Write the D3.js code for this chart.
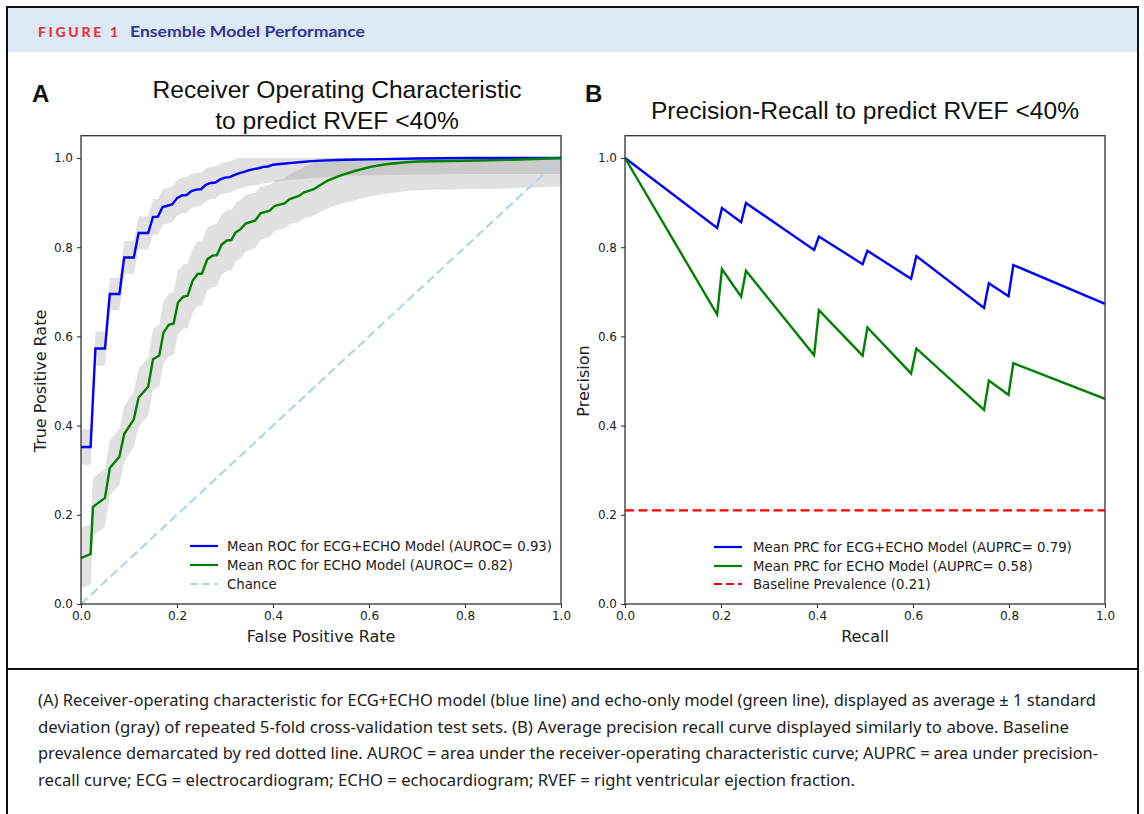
<!DOCTYPE html>
<html><head><meta charset="utf-8">
<script src="https://cdn.jsdelivr.net/npm/d3@7"></script>
<style>
html,body{margin:0;padding:0;background:#fff;}
svg{display:block;}
</style>
</head><body>
<svg id="chart" width="1144" height="814"></svg>
<script>
// ---------- DATA ----------
const tickValues = [0, 0.2, 0.4, 0.6, 0.8, 1.0];

// ROC: ECG+ECHO (blue) mean curve and std
const rocBlueFpr = [0,0.02,0.03,0.05,0.06,0.08,0.09,0.11,0.12,0.14,0.15,0.16,0.17,0.18,0.19,0.20,0.21,0.22,0.23,0.24,0.25,0.26,0.27,0.28,0.29,0.30,0.31,0.32,0.33,0.34,0.35,0.36,0.37,0.38,0.39,0.40,0.42,0.44,0.46,0.48,0.50,0.55,0.60,0.70,0.80,1.0];
const rocBlueTpr = [0.352,0.352,0.573,0.573,0.695,0.695,0.777,0.777,0.832,0.832,0.868,0.868,0.890,0.893,0.896,0.910,0.916,0.917,0.926,0.929,0.930,0.940,0.944,0.945,0.952,0.956,0.957,0.962,0.966,0.969,0.973,0.975,0.977,0.980,0.981,0.985,0.987,0.989,0.991,0.993,0.994,0.996,0.997,0.999,1.0,1.0];
const rocBlueSd  = [0.040,0.040,0.038,0.038,0.036,0.036,0.037,0.037,0.037,0.037,0.040,0.040,0.040,0.040,0.040,0.040,0.040,0.040,0.038,0.038,0.037,0.037,0.036,0.036,0.035,0.035,0.035,0.035,0.035,0.035,0.036,0.036,0.037,0.037,0.037,0.038,0.038,0.038,0.038,0.038,0.038,0.036,0.036,0.036,0.036,0.036];

// ROC: ECHO only (green) mean curve and std
const rocGreenFpr = [0,0.02,0.025,0.05,0.06,0.08,0.09,0.11,0.12,0.14,0.15,0.163,0.172,0.183,0.193,0.202,0.213,0.222,0.233,0.243,0.252,0.263,0.274,0.283,0.293,0.304,0.313,0.322,0.333,0.343,0.363,0.374,0.393,0.404,0.424,0.435,0.454,0.465,0.485,0.496,0.515,0.544,0.574,0.603,0.635,0.671,0.70,0.80,0.90,1.0];
const rocGreenTpr = [0.103,0.112,0.218,0.238,0.305,0.330,0.381,0.414,0.463,0.487,0.549,0.557,0.609,0.626,0.629,0.676,0.689,0.691,0.726,0.740,0.741,0.773,0.781,0.782,0.806,0.815,0.816,0.833,0.841,0.853,0.860,0.876,0.882,0.893,0.898,0.908,0.915,0.923,0.930,0.938,0.950,0.962,0.972,0.980,0.986,0.990,0.992,0.994,0.996,1.0];
const rocGreenSd  = [0.068,0.068,0.065,0.065,0.062,0.062,0.062,0.062,0.065,0.065,0.068,0.068,0.070,0.070,0.070,0.072,0.072,0.072,0.072,0.072,0.072,0.070,0.070,0.070,0.068,0.068,0.068,0.066,0.066,0.064,0.062,0.060,0.058,0.056,0.056,0.056,0.058,0.058,0.060,0.060,0.062,0.064,0.066,0.066,0.066,0.065,0.064,0.064,0.064,0.064];

// Chance line
const chanceX = [0, 1];
const chanceY = [0, 1];

// PR curves
const prBlueRecall    = [0,0.192,0.202,0.242,0.252,0.394,0.404,0.495,0.505,0.596,0.607,0.748,0.758,0.799,0.809,1.0];
const prBluePrecision = [1.0,0.843,0.888,0.856,0.899,0.794,0.824,0.762,0.792,0.729,0.780,0.664,0.719,0.690,0.760,0.673];
const prGreenRecall    = [0,0.192,0.202,0.242,0.252,0.394,0.404,0.495,0.505,0.596,0.607,0.748,0.758,0.799,0.809,1.0];
const prGreenPrecision = [1.0,0.649,0.751,0.689,0.747,0.558,0.659,0.557,0.620,0.517,0.573,0.435,0.501,0.469,0.540,0.460];
const baselinePrevalence = 0.21;

const legendA = ["Mean ROC for ECG+ECHO Model (AUROC= 0.93)", "Mean ROC for ECHO Model (AUROC= 0.82)", "Chance"];
const legendB = ["Mean PRC for ECG+ECHO Model (AUPRC= 0.79)", "Mean PRC for ECHO Model (AUPRC= 0.58)", "Baseline Prevalence (0.21)"];

const captionLines = [
  "(A) Receiver-operating characteristic for ECG+ECHO model (blue line) and echo-only model (green line), displayed as average \u00B1 1 standard",
  "deviation (gray) of repeated 5-fold cross-validation test sets. (B) Average precision recall curve displayed similarly to above. Baseline",
  "prevalence demarcated by red dotted line. AUROC = area under the receiver-operating characteristic curve; AUPRC = area under precision-",
  "recall curve; ECG = electrocardiogram; ECHO = echocardiogram; RVEF = right ventricular ejection fraction."
];

// ---------- DRAW ----------
const svg = d3.select("#chart");
const BLUE = "#0000ff", GREEN = "#008000";
const mono = "'DejaVu Sans', sans-serif";

// header band + frame
svg.append("rect").attr("x", 8).attr("y", 8).attr("width", 1130).attr("height", 44).attr("fill", "#dde9f5");
svg.append("path").attr("d", "M7,814 L7,7 L1138,7 L1138,814").attr("fill", "none").attr("stroke", "#111").attr("stroke-width", 2);
svg.append("line").attr("x1", 7).attr("x2", 1138).attr("y1", 669).attr("y2", 669).attr("stroke", "#111").attr("stroke-width", 2);

svg.append("text").attr("x", 38).attr("y", 37).text("FIGURE 1")
  .attr("font-family", "Lato, 'Open Sans', sans-serif").attr("font-weight", 900).attr("font-size", 14)
  .attr("fill", "#e5323e").attr("textLength", 80).attr("lengthAdjust", "spacing");
svg.append("text").attr("x", 130).attr("y", 37).text("Ensemble Model Performance")
  .attr("font-family", "Lato, 'Open Sans', sans-serif").attr("font-weight", 700).attr("font-size", 16)
  .attr("fill", "#34368f").attr("textLength", 235).attr("lengthAdjust", "spacingAndGlyphs");

function panel(x0, x1, opts) {
  const x = d3.scaleLinear().domain([0, 1]).range([x0, x1]);
  const y = d3.scaleLinear().domain([0, 1.05]).range([604, 604 - 446 * 1.05]);
  const g = svg.append("g");
  const clipId = "clip" + x0;
  svg.append("clipPath").attr("id", clipId).append("rect")
    .attr("x", x0).attr("y", y(1.05)).attr("width", x1 - x0).attr("height", 604 - y(1.05));
  const plot = g.append("g").attr("clip-path", `url(#${clipId})`);

  // axes
  const ax = g.append("g").attr("transform", "translate(0,604)")
    .call(d3.axisBottom(x).tickValues(tickValues).tickFormat(d3.format(".1f")).tickSize(4).tickPadding(3));
  const ay = g.append("g").attr("transform", `translate(${x0},0)`)
    .call(d3.axisLeft(y).tickValues(tickValues).tickFormat(d3.format(".1f")).tickSize(4).tickPadding(4));
  [ax, ay].forEach(a => {
    a.select(".domain").remove();
    a.selectAll("line").attr("stroke", "#333").attr("stroke-width", 1.1);
    a.selectAll("text").attr("font-family", mono).attr("font-size", 12).attr("fill", "#222");
  });
  // spines
  g.append("rect").attr("x", x0).attr("y", y(1.05)).attr("width", x1 - x0).attr("height", 604 - y(1.05))
    .attr("fill", "none").attr("stroke", "#333").attr("stroke-width", 1.3);

  // labels
  g.append("text").attr("x", (x0 + x1) / 2).attr("y", 642).attr("text-anchor", "middle")
    .attr("font-family", mono).attr("font-size", 16).attr("fill", "#222").text(opts.xlabel);
  g.append("text").attr("transform", `translate(${opts.ylabelX},381) rotate(-90)`).attr("text-anchor", "middle")
    .attr("font-family", mono).attr("font-size", 16).attr("fill", "#222").text(opts.ylabel);
  return {x, y, g, plot};
}

// ---------- Panel A ----------
const A = panel(81, 561, {xlabel: "False Positive Rate", ylabel: "True Positive Rate", ylabelX: 46});

function band(fpr, tpr, sd) {
  return fpr.map((f, i) => ({x: f, lo: Math.max(tpr[i] - sd[i], 0), hi: Math.min(tpr[i] + sd[i], 1)}));
}
const area = d3.area().x(d => A.x(d.x)).y0(d => A.y(d.lo)).y1(d => A.y(d.hi));
A.plot.append("path").datum(band(rocBlueFpr, rocBlueTpr, rocBlueSd)).attr("d", area)
  .attr("fill", "#808080").attr("fill-opacity", 0.24);
A.plot.append("path").datum(band(rocGreenFpr, rocGreenTpr, rocGreenSd)).attr("d", area)
  .attr("fill", "#808080").attr("fill-opacity", 0.24);

const lineA = d3.line().x(d => A.x(d[0])).y(d => A.y(d[1]));
A.plot.append("path").datum(d3.zip(chanceX, chanceY)).attr("d", lineA)
  .attr("fill", "none").attr("stroke", "#add8e6").attr("stroke-width", 2.2).attr("stroke-dasharray", "9,4.5");
A.plot.append("path").datum(d3.zip(rocBlueFpr, rocBlueTpr)).attr("d", lineA)
  .attr("fill", "none").attr("stroke", BLUE).attr("stroke-width", 2.4);
A.plot.append("path").datum(d3.zip(rocGreenFpr, rocGreenTpr)).attr("d", lineA)
  .attr("fill", "none").attr("stroke", GREEN).attr("stroke-width", 2.4);

// titles
const titleFont = "'Liberation Sans', Arial, sans-serif";
svg.append("text").attr("x", 337).attr("y", 98).attr("text-anchor", "middle").attr("font-family", titleFont)
  .attr("font-size", 24.6).attr("fill", "#111").text("Receiver Operating Characteristic");
svg.append("text").attr("x", 337).attr("y", 129).attr("text-anchor", "middle").attr("font-family", titleFont)
  .attr("font-size", 24.6).attr("fill", "#111").text("to predict RVEF <40%");
svg.append("text").attr("x", 32).attr("y", 102).attr("font-family", titleFont).attr("font-weight", 700)
  .attr("font-size", 24).attr("fill", "#111").text("A");

// legend A
const legStyleA = [{c: BLUE, dash: null}, {c: GREEN, dash: null}, {c: "#add8e6", dash: "8,4"}];
legendA.forEach((t, i) => {
  const yy = [546, 565, 584][i];
  svg.append("line").attr("x1", 190).attr("x2", 218).attr("y1", yy).attr("y2", yy)
    .attr("stroke", legStyleA[i].c).attr("stroke-width", 2.2).attr("stroke-dasharray", legStyleA[i].dash);
  svg.append("text").attr("x", 227).attr("y", yy + 4.6).attr("font-family", mono).attr("font-size", 13.3)
    .attr("fill", "#222").text(t);
});

// ---------- Panel B ----------
const B = panel(625, 1105, {xlabel: "Recall", ylabel: "Precision", ylabelX: 589});
const lineB = d3.line().x(d => B.x(d[0])).y(d => B.y(d[1]));
B.plot.append("path").datum(d3.zip(prBlueRecall, prBluePrecision)).attr("d", lineB)
  .attr("fill", "none").attr("stroke", BLUE).attr("stroke-width", 2.4);
B.plot.append("path").datum(d3.zip(prGreenRecall, prGreenPrecision)).attr("d", lineB)
  .attr("fill", "none").attr("stroke", GREEN).attr("stroke-width", 2.4);
B.plot.append("line").attr("x1", B.x(0)).attr("x2", B.x(1))
  .attr("y1", B.y(baselinePrevalence)).attr("y2", B.y(baselinePrevalence))
  .attr("stroke", "#ff0000").attr("stroke-width", 2.2).attr("stroke-dasharray", "9,4.5");

svg.append("text").attr("x", 865).attr("y", 119).attr("text-anchor", "middle").attr("font-family", titleFont)
  .attr("font-size", 24.6).attr("fill", "#111").text("Precision-Recall to predict RVEF <40%");
svg.append("text").attr("x", 585).attr("y", 102).attr("font-family", titleFont).attr("font-weight", 700)
  .attr("font-size", 24).attr("fill", "#111").text("B");

const legStyleB = [{c: BLUE, dash: null}, {c: GREEN, dash: null}, {c: "#ff0000", dash: "8,4"}];
legendB.forEach((t, i) => {
  const yy = [547, 566, 584][i];
  svg.append("line").attr("x1", 714).attr("x2", 742).attr("y1", yy).attr("y2", yy)
    .attr("stroke", legStyleB[i].c).attr("stroke-width", 2.2).attr("stroke-dasharray", legStyleB[i].dash);
  svg.append("text").attr("x", 753).attr("y", yy + 4.6).attr("font-family", mono).attr("font-size", 13.3)
    .attr("fill", "#222").text(t);
});

// ---------- Caption ----------
const capW = [1058, 1031, 1060, 817];
captionLines.forEach((t, i) => {
  svg.append("text").attr("x", 38).attr("y", 706 + i * 26.5).attr("font-family", "'Noto Sans', sans-serif")
    .attr("font-size", 16.5).attr("fill", "#222").attr("textLength", capW[i]).attr("lengthAdjust", "spacingAndGlyphs")
    .text(t);
});
</script>
</body></html>
